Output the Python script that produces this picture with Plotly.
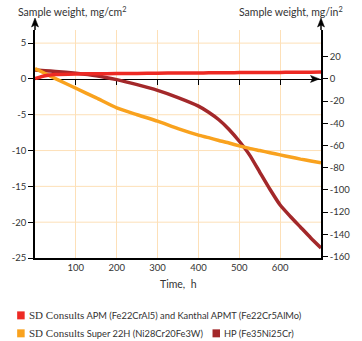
import plotly.graph_objects as go

# Exposure time, h
hours = [0, 25, 50, 100, 150, 200, 250, 300, 350, 400, 425, 450, 475, 500, 525, 550, 575, 600, 625, 650, 675, 700]

# Sample weight change, mg/cm2
apm = [0.05, 0.45, 0.62, 0.7, 0.72, 0.75, 0.77, 0.8, 0.82, 0.84, 0.85, 0.86, 0.87, 0.88, 0.89, 0.9, 0.9, 0.91, 0.92, 0.93, 0.94, 0.95]
super22h = [1.45, 0.75, 0.05, -1.3, -2.65, -4.05, -5.0, -5.9, -6.95, -7.85, -8.2, -8.6, -8.95, -9.35, -9.7, -10.0, -10.3, -10.6, -10.9, -11.2, -11.45, -11.7]
hp = [1.25, 1.15, 1.05, 0.8, 0.45, -0.1, -0.8, -1.6, -2.6, -3.8, -4.65, -5.7, -7.05, -8.7, -10.6, -13.0, -15.4, -17.6, -19.2, -20.7, -22.2, -23.6]

series_names = [
    '<span style="font-family:Liberation Serif;font-size:11px">SD Consults</span> APM (Fe22CrAl5) and Kanthal APMT (Fe22Cr5AlMo)',
    '<span style="font-family:Liberation Serif;font-size:11px">SD Consults</span> Super 22H (Ni28Cr20Fe3W)',
    'HP (Fe35Ni25Cr)',
]
series_colors = ["#ed2a24", "#f9a21e", "#a3282a"]

left_ticks = [5, 0, -5, -10, -15, -20, -25]
right_ticks = [20, 0, -20, -40, -60, -80, -100, -120, -140, -160]
time_ticks = [100, 200, 300, 400, 500, 600]

CM2_PER_IN2 = 6.4516
Y_RANGE = [-25, 6.83]
X_RANGE = [0, 700]

FONT = "Lato"
TXT = "#333333"
GRID = "#fde0b8"

fig = go.Figure()

# HP first, then Super 22H, APM on top
for ys, name, color in [(hp, series_names[2], series_colors[2]),
                        (super22h, series_names[1], series_colors[1]),
                        (apm, series_names[0], series_colors[0])]:
    fig.add_trace(go.Scatter(
        x=hours, y=ys, mode="lines", name=name, showlegend=False,
        line=dict(color=color, width=3.5, shape="spline", smoothing=0.5),
        xaxis="x", yaxis="y",
    ))

# empty traces so the zero-line axis and the in2 axis get drawn
fig.add_trace(go.Scatter(x=[None], y=[None], xaxis="x2", yaxis="y", showlegend=False, hoverinfo="skip"))
fig.add_trace(go.Scatter(x=[None], y=[None], xaxis="x", yaxis="y2", showlegend=False, hoverinfo="skip"))

tickfont = dict(size=9.5, family=FONT, color=TXT)

fig.update_layout(
    width=362, height=341,
    margin=dict(l=24, r=33.5, t=30, b=82.5),
    paper_bgcolor="white", plot_bgcolor="white",
    font=dict(family=FONT, size=10, color=TXT),
    showlegend=False,
    xaxis=dict(
        range=X_RANGE, tickvals=time_ticks, ticktext=[str(v) for v in time_ticks],
        showgrid=True, gridcolor=GRID, gridwidth=1,
        showline=True, linecolor="black", linewidth=1.5, mirror=False,
        ticks="", zeroline=False, tickfont=tickfont,
    ),
    xaxis2=dict(
        range=X_RANGE, overlaying="x", anchor="free",
        position=(0 - Y_RANGE[0]) / (Y_RANGE[1] - Y_RANGE[0]),
        tickvals=time_ticks, showticklabels=False,
        ticks="outside", ticklen=5, tickwidth=1.2, tickcolor="black",
        showline=True, linecolor="black", linewidth=1.2,
        showgrid=False, zeroline=False, layer="below traces",
    ),
    yaxis=dict(
        range=Y_RANGE, tickvals=left_ticks, ticktext=[str(v) for v in left_ticks],
        showgrid=False, zeroline=False,
        showline=True, linecolor="black", linewidth=1.5,
        ticks="outside", ticklen=5, tickwidth=1, tickcolor="black",
        tickfont=tickfont,
    ),
    yaxis2=dict(
        range=[Y_RANGE[0] * CM2_PER_IN2, Y_RANGE[1] * CM2_PER_IN2],
        overlaying="y", side="right",
        tickvals=right_ticks, ticktext=[str(v) for v in right_ticks],
        showgrid=False, zeroline=False,
        showline=True, linecolor="black", linewidth=1.5,
        ticks="outside", ticklen=5, tickwidth=1, tickcolor="black",
        tickfont=tickfont,
    ),
)

# horizontal grid lines on the mg/cm2 scale (0 and -25 are axis lines)
for v in left_ticks:
    if v not in (0, -25):
        fig.add_shape(type="line", xref="paper", yref="y", x0=0, x1=1, y0=v, y1=v,
                      line=dict(color=GRID, width=1), layer="below")

# arrow ends on both vertical axes, drawn in pixels above the plot top
for xa in (0, 1):
    fig.add_shape(type="path", xref="paper", yref="paper",
                  xsizemode="pixel", ysizemode="pixel", xanchor=xa, yanchor=1,
                  path="M0,0 L0,6", line=dict(color="black", width=1.5))
    fig.add_shape(type="path", xref="paper", yref="paper",
                  xsizemode="pixel", ysizemode="pixel", xanchor=xa, yanchor=1,
                  path="M0,12 L-3.5,3 L0,5 L3.5,3 Z", fillcolor="black",
                  line=dict(color="black", width=0.5))

# arrow end on the zero line, pointing right
fig.add_shape(type="path", xref="paper", yref="y",
              xsizemode="pixel", ysizemode="pixel", xanchor=1, yanchor=0,
              path="M-1.5,0 L-10.5,3.5 L-8.5,0 L-10.5,-3.5 Z", fillcolor="black",
              line=dict(color="black", width=0.5))

# axis titles
fig.add_annotation(text="Sample weight, mg/cm<sup>2</sup>", x=-0.066, y=1.079,
                   xref="paper", yref="paper", xanchor="left", yanchor="middle",
                   showarrow=False, font=dict(size=10.5, family=FONT, color=TXT))
fig.add_annotation(text="Sample weight, mg/in<sup>2</sup>", x=1.085, y=1.079,
                   xref="paper", yref="paper", xanchor="right", yanchor="middle",
                   showarrow=False, font=dict(size=10.5, family=FONT, color=TXT))
fig.add_annotation(text="Time,  h", x=0.5, y=-0.116, xref="paper", yref="paper",
                   xanchor="center", yanchor="middle", showarrow=False,
                   font=dict(size=10.5, family=FONT, color=TXT))

# legend: one entry on the first row, two on the second
legend_pos = [(5, 316), (5, 334), (213, 334)]
for (px, py), name, color in zip(legend_pos, series_names, series_colors):
    x0 = (px - 24) / 304.5
    yc = (258.5 - py) / 228.5
    h = 8 / 228.5
    fig.add_shape(type="rect", xref="paper", yref="paper",
                  x0=x0, x1=x0 + 8 / 304.5, y0=yc - h / 2, y1=yc + h / 2,
                  fillcolor=color, line=dict(width=0))
    fig.add_annotation(text=name, x=x0 + 10 / 304.5, y=yc, xref="paper", yref="paper",
                       xanchor="left", yanchor="middle", showarrow=False,
                       font=dict(size=9.3, family=FONT, color=TXT))

fig.write_html("out.html")
